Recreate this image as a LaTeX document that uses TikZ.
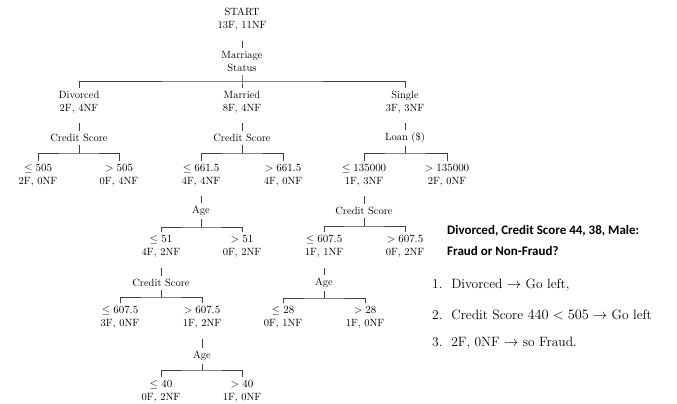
\documentclass[tikz,border=0pt]{standalone}
\usepackage{fontspec}
\usepackage{amsmath}
\newfontfamily\questionfont{Carlito}
\tikzset{
  treeNode/.style={align=center, font=\fontsize{10.5}{13}\selectfont, inner xsep=2pt, inner ysep=3pt},
  treeEdge/.style={draw=black!75, line width=0.6pt},
  treeLink/.style={treeEdge, shorten <=7pt},
  stepText/.style={anchor=west, font=\fontsize{13.5}{16}\selectfont, inner sep=0pt},
  questionText/.style={anchor=west, align=left, font=\questionfont\bfseries\fontsize{13}{21}\selectfont, inner sep=0pt}
}

\begin{document}
\begin{tikzpicture}[x=1pt, y=-1pt]
      \useasboundingbox (0,0) rectangle (677,404);

      % root and first split
      \node[treeNode] (start) at (242,19.5) {START\\13F, 11NF};
      \node[treeNode] (marital) at (242,61.5) {Marriage\\Status};
      \node[treeNode] (divorced) at (79,102) {Divorced\\2F, 4NF};
      \node[treeNode] (married) at (242,102) {Married\\8F, 4NF};
      \node[treeNode] (single) at (405,102) {Single\\3F, 3NF};
      \coordinate (maritalFork) at (242,81);
      \draw[treeLink] (start.south) -- (marital.north);
      \draw[treeEdge] (marital.south) -- (maritalFork) -- (married.north);
      \draw[treeEdge] (divorced.north) |- (maritalFork) -| (single.north);

      % second level
      \node[treeNode] (csDiv) at (79,138) {Credit Score};
      \node[treeNode] (csMar) at (242,138) {Credit Score};
      \node[treeNode] (loan) at (405,138) {Loan (\$)};
      \draw[treeLink] (divorced.south) -- (csDiv.north);
      \draw[treeLink] (married.south) -- (csMar.north);
      \draw[treeLink] (single.south) -- (loan.north);

      \node[treeNode] (divLe) at (38,175) {$\le 505$\\2F, 0NF};
      \node[treeNode] (divGt) at (119,175) {$> 505$\\0F, 4NF};
      \node[treeNode] (marLe) at (201,175) {$\le 661.5$\\4F, 4NF};
      \node[treeNode] (marGt) at (283,175) {$> 661.5$\\4F, 0NF};
      \node[treeNode] (loanLe) at (364,175) {$\le 135000$\\1F, 3NF};
      \node[treeNode] (loanGt) at (447,175) {$> 135000$\\2F, 0NF};
      \coordinate (csDivFork) at (79,153);
      \coordinate (csMarFork) at (242,153);
      \coordinate (loanFork) at (405,153);
      \draw[treeEdge] (csDiv.south) -- (csDivFork);
      \draw[treeEdge] (divLe.north) |- (csDivFork) -| (divGt.north);
      \draw[treeEdge] (csMar.south) -- (csMarFork);
      \draw[treeEdge] (marLe.north) |- (csMarFork) -| (marGt.north);
      \draw[treeEdge] (loan.south) -- (loanFork);
      \draw[treeEdge] (loanLe.north) |- (loanFork) -| (loanGt.north);

      % third level
      \node[treeNode] (ageMar) at (201,211) {Age};
      \node[treeNode] (csLoan) at (364,211) {Credit Score};
      \draw[treeLink] (marLe.south) -- (ageMar.north);
      \draw[treeLink] (loanLe.south) -- (csLoan.north);

      \node[treeNode] (ageLe) at (161,246.5) {$\le 51$\\4F, 2NF};
      \node[treeNode] (ageGt) at (242,246.5) {$> 51$\\0F, 2NF};
      \node[treeNode] (csLoanLe) at (324,246.5) {$\le 607.5$\\1F, 1NF};
      \node[treeNode] (csLoanGt) at (405,246.5) {$> 607.5$\\0F, 2NF};
      \coordinate (ageMarFork) at (201,227);
      \coordinate (csLoanFork) at (364,226);
      \draw[treeEdge] (ageMar.south) -- (ageMarFork);
      \draw[treeEdge] (ageLe.north) |- (ageMarFork) -| (ageGt.north);
      \draw[treeEdge] (csLoan.south) -- (csLoanFork);
      \draw[treeEdge] (csLoanLe.north) |- (csLoanFork) -| (csLoanGt.north);

      % fourth level
      \node[treeNode] (csAge) at (161,283) {Credit Score};
      \node[treeNode] (ageLoan) at (324,283) {Age};
      \draw[treeLink] (ageLe.south) -- (csAge.north);
      \draw[treeLink] (csLoanLe.south) -- (ageLoan.north);

      \node[treeNode] (csAgeLe) at (120,317.5) {$\le 607.5$\\3F, 0NF};
      \node[treeNode] (csAgeGt) at (202,317.5) {$> 607.5$\\1F, 2NF};
      \node[treeNode] (ageLoanLe) at (283,317.5) {$\le 28$\\0F, 1NF};
      \node[treeNode] (ageLoanGt) at (365,317.5) {$> 28$\\1F, 0NF};
      \coordinate (csAgeFork) at (161,297);
      \coordinate (ageLoanFork) at (324,298);
      \draw[treeEdge] (csAge.south) -- (csAgeFork);
      \draw[treeEdge] (csAgeLe.north) |- (csAgeFork) -| (csAgeGt.north);
      \draw[treeEdge] (ageLoan.south) -- (ageLoanFork);
      \draw[treeEdge] (ageLoanLe.north) |- (ageLoanFork) -| (ageLoanGt.north);

      % last split
      \node[treeNode] (ageCs) at (202,356) {Age};
      \draw[treeLink] (csAgeGt.south) -- (ageCs.north);
      \node[treeNode] (ageCsLe) at (161,391) {$\le 40$\\0F, 2NF};
      \node[treeNode] (ageCsGt) at (242,391) {$> 40$\\1F, 0NF};
      \coordinate (ageCsFork) at (202,370);
      \draw[treeEdge] (ageCs.south) -- (ageCsFork);
      \draw[treeEdge] (ageCsLe.north) |- (ageCsFork) -| (ageCsGt.north);

      % example query
      \node[questionText] (question) at (447,240.5) {Divorced, Credit Score 44, 38, Male:\\Fraud or Non-Fraud?};
      \node[stepText] (stepOne) at (432,285) {1.\ \ Divorced $\rightarrow$ Go left,};
      \node[stepText] (stepTwo) at (432,315) {2.\ \ Credit Score $440 < 505 \rightarrow$ Go left};
      \node[stepText] (stepThree) at (432,343) {3.\ \ 2F, 0NF $\rightarrow$ so Fraud.};
\end{tikzpicture}
\end{document}
